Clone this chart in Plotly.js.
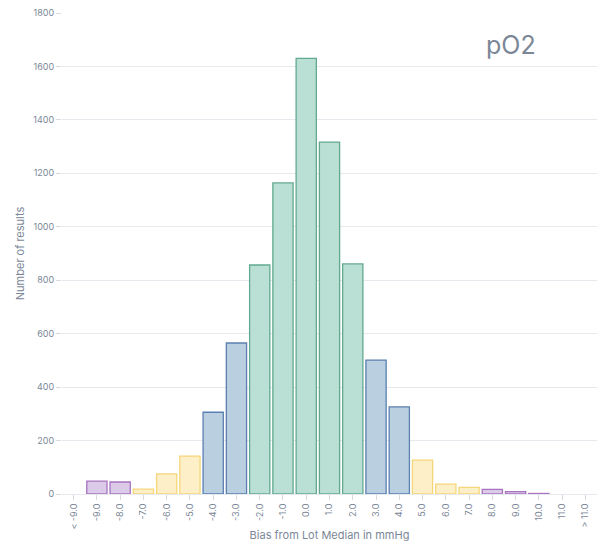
<!DOCTYPE html>
<html>
<head>
<meta charset="utf-8">
<script src="https://cdn.plot.ly/plotly-3.0.1.min.js"></script>
<style>html,body{margin:0;padding:0;background:#fff;}#chart{width:603px;height:542px;}</style>
</head>
<body>
<div id="chart"></div>
<script>
const categories = ["< -9.0","-9.0","-8.0","-7.0","-6.0","-5.0","-4.0","-3.0","-2.0","-1.0","0.0","1.0","2.0","3.0","4.0","5.0","6.0","7.0","8.0","9.0","10.0","11.0","> 11.0"];
const counts = [0,48,45,18,75,142,306,565,857,1164,1630,1317,861,501,326,127,37,25,17,9,2,0,0];
const groups = ["p","p","p","y","y","y","b","b","g","g","g","g","g","b","b","y","y","y","p","p","p","p","p"];

const fills = {p:"#dccbe8", y:"#fdefc8", b:"#bad0e1", g:"#badfd4"};
const lines = {p:"#a873c0", y:"#f6d67a", b:"#5b7fb0", g:"#62a98f"};

const trace = {
  type: "bar",
  x: categories,
  y: counts,
  marker: {
    color: groups.map(g => fills[g]),
    line: {color: groups.map(g => lines[g]), width: counts.map(v => v > 0 ? 1.3 : 0)}
  },
  hoverinfo: "x+y"
};

const textColor = "#7b8797";
const layout = {
  width: 603, height: 542,
  margin: {l: 62, r: 6, t: 13, b: 48},
  paper_bgcolor: "#fff", plot_bgcolor: "#fff",
  font: {family: "Inter, 'Noto Sans', sans-serif", color: textColor, size: 9},
  bargap: 0.13,
  showlegend: false,
  xaxis: {
    type: "category",
    tickangle: -90,
    ticks: "outside", ticklen: 5, tickcolor: "#d5dbe1",
    showgrid: false, showline: false, zeroline: false,
    tickfont: {size: 9, color: textColor},
    title: {text: "Bias from Lot Median in mmHg", font: {size: 11, color: textColor}, standoff: 22},
    automargin: false
  },
  yaxis: {
    range: [0, 1800],
    dtick: 200,
    ticks: "outside", ticklen: 5, tickcolor: "#d5dbe1",
    gridcolor: "#e6eaee", gridwidth: 1,
    zeroline: true, zerolinecolor: "#e6eaee",
    showline: false,
    tickfont: {size: 9, color: textColor},
    title: {text: "Number of results", font: {size: 11, color: textColor}, standoff: 6},
    automargin: false
  },
  annotations: [{
    text: "pO2", xref: "paper", yref: "paper",
    x: 0.84, y: 0.933, xanchor: "center", yanchor: "middle",
    showarrow: false, font: {size: 25, color: "#7b8797"}
  }]
};

Plotly.newPlot("chart", [trace], layout, {displayModeBar: false, staticPlot: true});
</script>
</body>
</html>
